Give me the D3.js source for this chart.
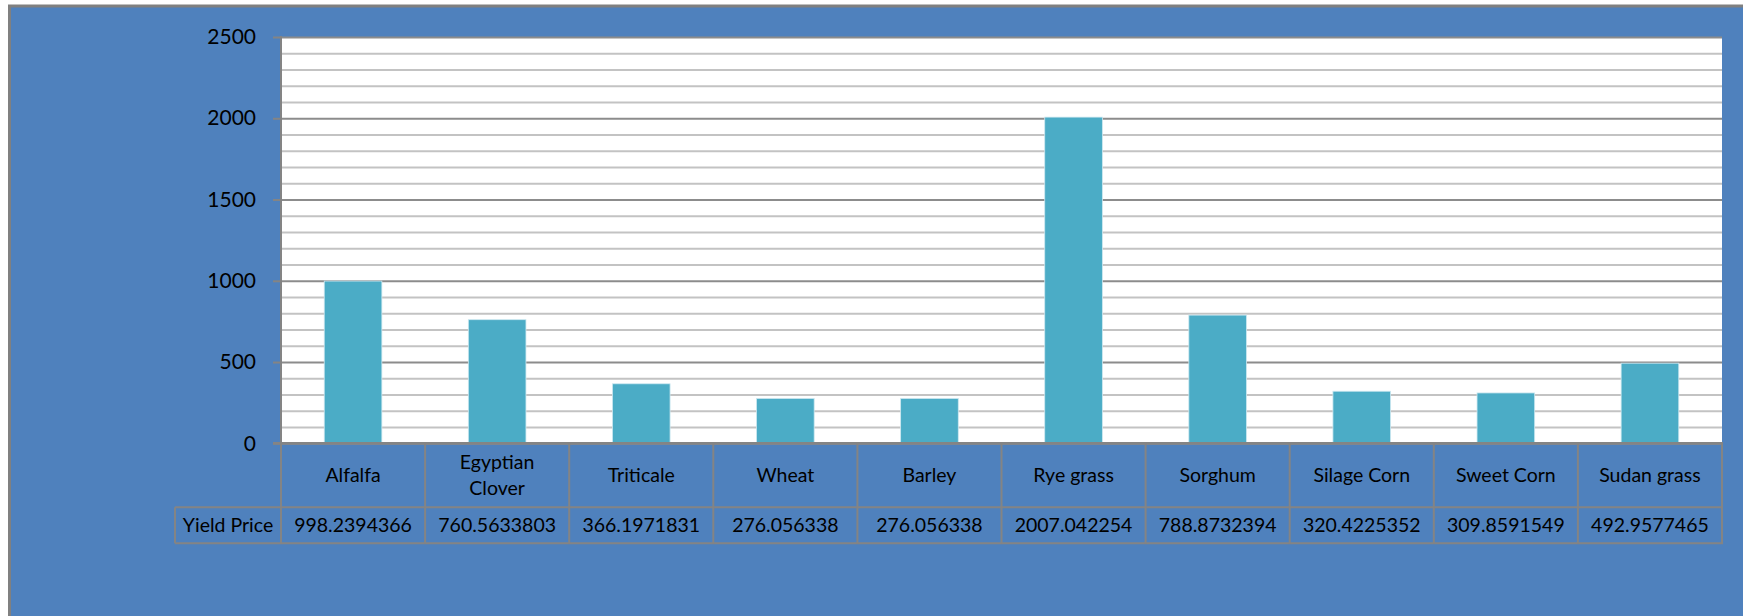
<!DOCTYPE html>
<meta charset="utf-8">
<head>
  <style>
    body { margin: 0; background: #fff; }
    svg text { font-family: Lato, "Open Sans", sans-serif; fill: #000; }
    .tick text { font-size: 21px; }
    .cell { font-size: 19.5px; }
  </style>
</head>
<body>
  <div class="chart"></div>
  <script src="https://d3js.org/d3.v7.min.js"></script>
  <script>
    var categories = ["Alfalfa", "Egyptian Clover", "Triticale", "Wheat", "Barley",
                      "Rye grass", "Sorghum", "Silage Corn", "Sweet Corn", "Sudan grass"];
    var yieldPrice = [998.2394366, 760.5633803, 366.1971831, 276.056338, 276.056338,
                      2007.042254, 788.8732394, 320.4225352, 309.8591549, 492.9577465];
    var valueLabels = ["998.2394366", "760.5633803", "366.1971831", "276.056338", "276.056338",
                       "2007.042254", "788.8732394", "320.4225352", "309.8591549", "492.9577465"];
    var seriesName = "Yield Price";
    var majorTicks = [0, 500, 1000, 1500, 2000, 2500];
    var minorTicks = d3.range(0, 2501, 100).filter(function(v) { return v % 500 !== 0; });

    var W = 1743, H = 616;
    var plot = { left: 281, right: 1722, top: 37, bottom: 443.3 };
    var table = { left: 175, rowMid: 507.3, bottom: 543.3 };
    var lineGray = "#848484";

    var svg = d3.select(".chart").append("svg")
        .attr("width", W)
        .attr("height", H);

    // chart area background with its frame
    svg.append("rect")
        .attr("x", 9.5).attr("y", 6)
        .attr("width", W + 20).attr("height", H + 20)
        .attr("fill", "#4F81BD")
        .attr("stroke", "#808080")
        .attr("stroke-width", 3);

    svg.append("rect")
        .attr("x", plot.left).attr("y", plot.top)
        .attr("width", plot.right - plot.left)
        .attr("height", plot.bottom - plot.top)
        .attr("fill", "#fff");

    var x = d3.scaleBand()
        .domain(categories)
        .range([plot.left, plot.right])
        .paddingInner(0.6)
        .paddingOuter(0.3);
    var step = x.step();

    var y = d3.scaleLinear()
        .domain([0, 2500])
        .range([plot.bottom, plot.top]);

    // minor gridlines
    svg.append("g")
        .attr("class", "grid minor")
        .attr("transform", "translate(" + plot.left + ",0)")
        .call(d3.axisRight(y).tickValues(minorTicks).tickSize(plot.right - plot.left).tickFormat(""))
        .call(function(g) {
          g.select(".domain").remove();
          g.selectAll("line").attr("stroke", "#c3c3c3").attr("stroke-width", 2);
        });

    // major gridlines
    svg.append("g")
        .attr("class", "grid major")
        .attr("transform", "translate(" + plot.left + ",0)")
        .call(d3.axisRight(y).tickValues(majorTicks).tickSize(plot.right - plot.left).tickFormat(""))
        .call(function(g) {
          g.select(".domain").remove();
          g.selectAll("line").attr("stroke", "#8c8c8c").attr("stroke-width", 2);
        });

    // bars
    svg.selectAll(".bar")
        .data(yieldPrice)
      .enter().append("rect")
        .attr("class", "bar")
        .attr("x", function(d, i) { return x(categories[i]); })
        .attr("y", function(d) { return y(d); })
        .attr("width", x.bandwidth())
        .attr("height", function(d) { return y(0) - y(d); })
        .attr("fill", "#4BACC6")
        .attr("stroke", "#cde8f0")
        .attr("stroke-width", 0.8);

    // y axis
    svg.append("g")
        .attr("class", "y axis")
        .attr("transform", "translate(" + plot.left + ",0)")
        .call(d3.axisLeft(y).tickValues(majorTicks).tickSize(8).tickPadding(17).tickFormat(d3.format("d")))
        .call(function(g) {
          g.select(".domain").remove();
          g.selectAll("line").attr("stroke", lineGray).attr("stroke-width", 2);
          g.selectAll("text").attr("fill", "#000");
        });

    svg.append("line")
        .attr("x1", plot.left).attr("x2", plot.left)
        .attr("y1", plot.top - 1).attr("y2", table.bottom)
        .attr("stroke", lineGray).attr("stroke-width", 2);

    // data table under the axis
    var tbl = svg.append("g").attr("class", "table");

    tbl.append("line")
        .attr("x1", plot.left - 8).attr("x2", plot.right + 1)
        .attr("y1", plot.bottom).attr("y2", plot.bottom)
        .attr("stroke", lineGray).attr("stroke-width", 2.5);

    [table.rowMid, table.bottom].forEach(function(yy) {
      tbl.append("line")
          .attr("x1", table.left).attr("x2", plot.right + 1)
          .attr("y1", yy).attr("y2", yy)
          .attr("stroke", lineGray).attr("stroke-width", 2);
    });

    tbl.append("line")
        .attr("x1", table.left).attr("x2", table.left)
        .attr("y1", table.rowMid).attr("y2", table.bottom)
        .attr("stroke", lineGray).attr("stroke-width", 2);

    tbl.selectAll(".col")
        .data(categories)
      .enter().append("line")
        .attr("class", "col")
        .attr("x1", function(d) { return x(d) - x.bandwidth() * 0.75 + step; })
        .attr("x2", function(d) { return x(d) - x.bandwidth() * 0.75 + step; })
        .attr("y1", plot.bottom).attr("y2", table.bottom)
        .attr("stroke", lineGray).attr("stroke-width", 2);

    var catMid = (plot.bottom + table.rowMid) / 2;
    var catText = tbl.selectAll(".cat")
        .data(categories)
      .enter().append("text")
        .attr("class", "cell cat")
        .attr("text-anchor", "middle")
        .attr("x", function(d) { return x(d) + x.bandwidth() / 2; })
        .attr("y", catMid)
        .attr("dy", "0.35em")
        .text(function(d) { return d; });

    // wrap labels that do not fit their column, like Excel does
    catText.each(function(d) {
      var t = d3.select(this);
      if (this.getComputedTextLength() < step - 20) return;
      var words = d.split(" ");
      var cx = t.attr("x");
      t.text(null).attr("dy", null);
      words.forEach(function(w, i) {
        t.append("tspan")
            .attr("x", cx)
            .attr("y", catMid)
            .attr("dy", ((i - (words.length - 1) / 2) * 1.37 + 0.35) + "em")
            .text(w);
      });
    });

    var valMid = (table.rowMid + table.bottom) / 2;
    tbl.selectAll(".val")
        .data(valueLabels)
      .enter().append("text")
        .attr("class", "cell val")
        .attr("text-anchor", "middle")
        .attr("x", function(d, i) { return x(categories[i]) + x.bandwidth() / 2; })
        .attr("y", valMid)
        .attr("dy", "0.35em")
        .text(function(d) { return d; });

    tbl.append("text")
        .attr("class", "cell")
        .attr("text-anchor", "middle")
        .attr("x", (table.left + plot.left) / 2)
        .attr("y", valMid)
        .attr("dy", "0.35em")
        .text(seriesName);
  </script>
</body>
